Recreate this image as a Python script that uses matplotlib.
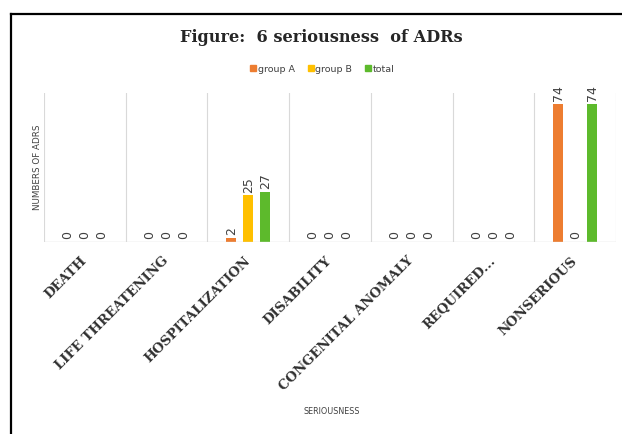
import matplotlib
matplotlib.use("Agg")
import matplotlib.pyplot as plt
from matplotlib.lines import Line2D
import numpy as np

categories = ["DEATH", "LIFE THREATENING", "HOSPITALIZATION", "DISABILITY",
              "CONGENITAL ANOMALY", "REQUIRED...", "NONSERIOUS"]
group_a = [0, 0, 2, 0, 0, 0, 74]
group_b = [0, 0, 25, 0, 0, 0, 0]
total = [0, 0, 27, 0, 0, 0, 74]
series_names = ["group A", "group B", "total"]
colors = ["#ED7D31", "#FFC000", "#5DBA2C"]

W, H = 622, 434
fig = plt.figure(figsize=(W / 100, H / 100), dpi=100)
ax = fig.add_axes([44 / W, 1 - 242 / H, (616 - 44) / W, (242 - 93) / H])

x = np.arange(len(categories))
spacing = 0.208
width = 0.122
for k, (vals, c) in enumerate(zip([group_a, group_b, total], colors)):
    pos = x + (k - 1) * spacing
    ax.bar(pos, vals, width=width, color=c, zorder=3)
    for px, v in zip(pos, vals):
        ax.annotate(str(v), (px, v), xytext=(0, 2), textcoords="offset points",
                    rotation=90, ha="center", va="bottom", fontsize=9,
                    color="#404040", family="DejaVu Sans")

ax.set_xlim(-0.5, len(categories) - 0.5)
ax.set_ylim(0, 80)
for b in np.arange(-0.5, len(categories), 1.0):
    ax.axvline(b, color="#D9D9D9", lw=0.8, zorder=1)
ax.axhline(0, color="#D9D9D9", lw=1.0, zorder=4)
for s in ax.spines.values():
    s.set_visible(False)
ax.set_xticks([])
ax.set_yticks([])

for i, cat in enumerate(categories):
    ax.annotate(cat, (i, 0), xytext=(0, -17 * 0.72), textcoords="offset points",
                rotation=45, rotation_mode="anchor", ha="right", va="center",
                fontsize=9.5, fontweight="bold", family="DejaVu Serif",
                color="#303030")

fig.text(332 / W, 1 - 411 / H, "SERIOUSNESS", ha="center", va="center",
         fontsize=5.8, color="#404040")
fig.text(38 / W, 1 - 167 / H, "NUMBERS OF ADRS", ha="center", va="center",
         rotation=90, fontsize=6.3, color="#404040")

fig.text(321 / W, 1 - 38 / H, "Figure:  6 seriousness  of ADRs", ha="center",
         va="center", fontsize=11.6, fontweight="bold",
         family="DejaVu Serif", color="#262626")

handles = [Line2D([], [], marker="s", ls="", color=c, markersize=4.5)
           for c in colors]
fig.legend(handles, series_names, loc="center", bbox_to_anchor=(322 / W, 1 - 69 / H),
           ncol=3, frameon=False, fontsize=6.8, handletextpad=0.1,
           columnspacing=1.3, handlelength=0.8, labelcolor="#404040")

# frame lines of the screenshot
fig.add_artist(Line2D([11 / W, 1], [1 - 14 / H, 1 - 14 / H], color="black", lw=1.6,
                      transform=fig.transFigure))
fig.add_artist(Line2D([11 / W, 11 / W], [0, 1 - 14 / H], color="black", lw=1.6,
                      transform=fig.transFigure))

fig.savefig("out.png", dpi=100)
